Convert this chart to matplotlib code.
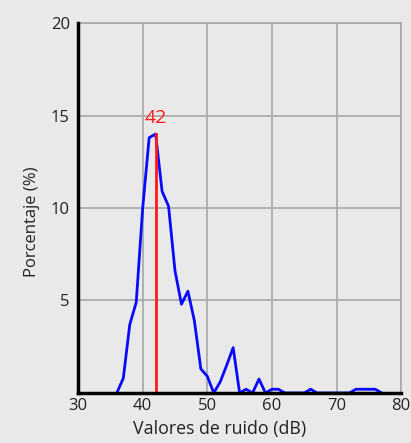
import matplotlib
matplotlib.use("Agg")
from matplotlib import pyplot as plt

# noise histogram (dB -> %)
db = [36, 37, 38, 39, 40, 41, 42, 43, 44, 45, 46, 47, 48, 49, 50, 51, 52, 53, 54, 55,
      56, 57, 58, 59, 60, 61, 62, 63, 64, 65, 66, 67, 68, 69, 70, 71, 72, 73, 74, 75,
      76, 77]
pct = [0.0, 0.8, 3.7, 4.9, 10.0, 13.8, 14.0, 10.9, 10.1, 6.6, 4.8, 5.5, 3.9, 1.3, 0.9, 0.0,
       0.6, 1.5, 2.45, 0.0, 0.2, 0.0, 0.75, 0.0, 0.2, 0.2, 0.0, 0.0, 0.0, 0.0, 0.2, 0.0,
       0.0, 0.0, 0.0, 0.0, 0.0, 0.2, 0.2, 0.2, 0.2, 0.0]
mode_db = 42
mode_pct = 14.0
xticks = [30, 40, 50, 60, 70, 80]
yticks = [5, 10, 15, 20]

plt.rcParams['font.family'] = ['Open Sans', 'DejaVu Sans']
bg = '#e9e9e9'
fig = plt.figure(figsize=(4.11, 4.43), dpi=100, facecolor=bg)
ax = fig.add_axes([0.19, 0.113, 0.786, 0.835], facecolor=bg)

ax.plot(db, pct, color='#0a0aff', lw=2.0, zorder=2)
ax.plot([mode_db, mode_db], [0, mode_pct], color='#ff1a1a', lw=2.0, zorder=3)
ax.text(mode_db, 14.86, str(mode_db), color='#ff1a1a', fontsize=14, ha='center', va='center')

ax.set_xlim(30, 80)
ax.set_ylim(0, 20)
ax.set_xticks(xticks)
ax.set_yticks(yticks)
ax.grid(True, color='#ababab', lw=1.3)
ax.set_axisbelow(True)
ax.tick_params(length=0, labelsize=12, colors='#222222')
ax.tick_params(axis='x', pad=4)
ax.tick_params(axis='y', pad=6)

for s in ['top', 'right']:
    ax.spines[s].set_color('#ababab')
    ax.spines[s].set_linewidth(1.3)
for s in ['left', 'bottom']:
    ax.spines[s].set_color('black')
    ax.spines[s].set_linewidth(2.5)
    ax.spines[s].set_zorder(5)

ax.set_xlabel('Valores de ruido (dB)', fontsize=12.8, color='#222222')
ax.set_ylabel('Porcentaje (%)', fontsize=12, color='#222222')
ax.xaxis.set_label_coords(0.437, -0.074)
ax.yaxis.set_label_coords(-0.118, 0.462)

fig.savefig('out.png', dpi=100, facecolor=bg)
